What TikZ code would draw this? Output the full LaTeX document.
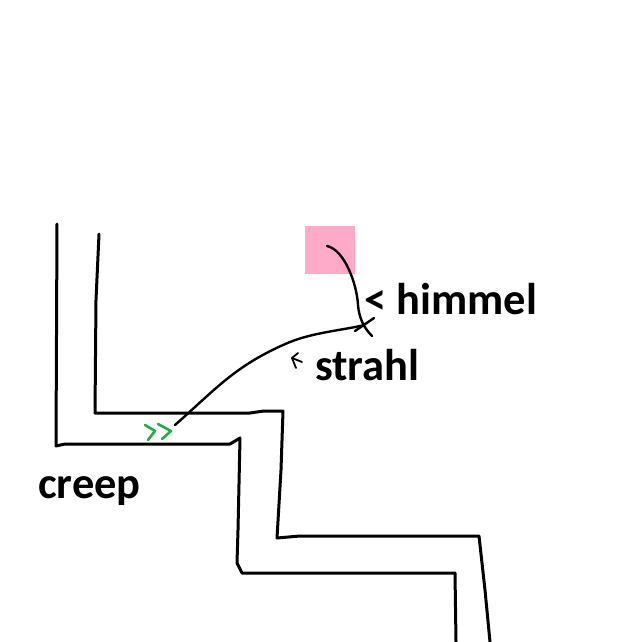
\documentclass[tikz,border=0pt]{standalone}
\usepackage{fontspec}
\setmainfont{Carlito}
\usetikzlibrary{arrows.meta, positioning, calc}
\definecolor{skypink}{RGB}{255, 170, 200}
\definecolor{creepgreen}{RGB}{40, 170, 70}

\begin{document}
\begin{tikzpicture}[
        x=1pt, y=-1pt,
        wand/.style={
            line width=3pt,
            line join=round,
            line cap=round
        },
        spur/.style={
            line width=2.4pt,
            line cap=round,
            line join=round
        },
        beschriftung/.style={
            anchor=base west,
            inner sep=0pt,
            font=\fontsize{44.5}{50}\selectfont\bfseries
        }
    ]
        \useasboundingbox (0,0) rectangle (641,642);
        % Schacht, aussen und innen
        \draw[wand] (57,224) -- (56,446) -- (65,444) -- (230,444)
            -- (240,438) -- (238,530) -- (237,563) -- (242,573)
            -- (455,573) -- (456,642);
        \draw[wand] (99,234) -- (96,300) -- (95,413) -- (250,413)
            -- (264,411) -- (283,411) -- (281,470) -- (277,538)
            -- (300,536) -- (479,536) -- (485,590) -- (490,642);
        % Himmel
        \node[fill=skypink, minimum width=50pt, minimum height=48pt,
            inner sep=0pt] (himmelfeld) at (330,250) {};
        \coordinate (kreuz) at (364,325);
        \coordinate (creepkopf) at (175,425);
        \draw[spur] ($(himmelfeld.center)+(-3,-4)$)
            .. controls (345,250) and (357,285) .. (358,305)
            .. controls (359,318) and (364,328) .. (372,336);
        \draw[spur] (355,331) -- (374,318);
        % Strahl
        \draw[spur] (creepkopf)
            .. controls (215,390) and (235,365) .. (290,342)
            .. controls (315,332) and (345,330) .. (kreuz);
        \draw[spur, line width=1.8pt] (298,353) -- (292,358) -- (296,368);
        \draw[spur, line width=1.8pt] (292,358) -- (302,362);
        % Creep
        \draw[spur, creepgreen, line width=2.6pt]
            (145,425) -- (155,431) -- (148,440);
        \draw[spur, creepgreen, line width=2.6pt]
            (158,424) -- (171,431) -- (162,439);
        % Texte
        \node[beschriftung] (himmel) at (364,314) {< himmel};
        \node[beschriftung] (strahl) at (315,380) {strahl};
        \node[beschriftung] (creep) at (38,498) {creep};
    \end{tikzpicture}
\end{document}
